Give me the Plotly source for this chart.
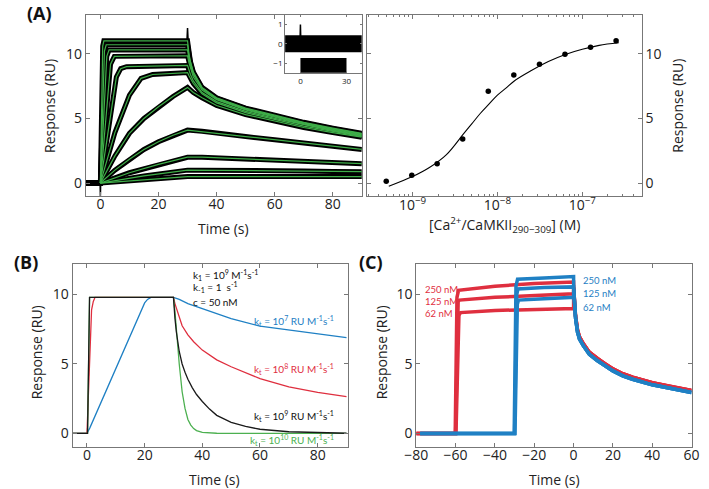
import plotly.graph_objects as go

W, H = 709, 489
FONT = "Open Sans"
FONT2 = "Lato"
GRAY = "#777777"
GREEN_A = "#3fae49"
RED = "#df2f3f"
BLUE = "#1f80c4"
GREEN_B = "#4cb050"

# ---------------- Panel A (left): sensorgrams + fits ----------------
fit_t = [
    [0, 0.8, 1.2, 30, 30.5, 31, 32, 35, 40, 50, 60, 70, 80, 90],
    [0, 1.4, 2.0, 30, 30.5, 31, 32, 35, 40, 50, 60, 70, 80, 90],
    [0, 2.2, 3.0, 30, 30.5, 31, 32, 35, 40, 50, 60, 70, 80, 90],
    [0, 3.5, 4.8, 30, 30.5, 31, 32, 35, 40, 50, 60, 70, 80, 90],
    [0, 5.5, 7.0, 9.0, 30, 30.5, 31, 32, 35, 40, 50, 60, 70, 80, 90],
    [0, 5, 10, 14, 18, 30, 30.5, 31, 32, 35, 40, 50, 60, 70, 80, 90],
    [0, 5, 10, 15, 20, 25, 30, 30.5, 31, 32, 35, 40, 50, 60, 70, 80, 90],
    [0, 5, 10, 15, 20, 25, 30, 35, 40, 50, 60, 70, 80, 90],
    [0, 10, 20, 30, 35, 40, 50, 60, 70, 80, 90],
    [0, 15, 30, 35, 40, 50, 60, 70, 80, 90],
    [0, 30, 35, 40, 50, 60, 70, 80, 90],
]
fit_y = [
    [0, 10.6, 11.0, 11.0, 10.0, 9.4, 8.6, 7.4, 6.6, 5.8, 5.25, 4.7, 4.25, 3.85],
    [0, 10.2, 10.7, 10.7, 9.8, 9.3, 8.5, 7.35, 6.55, 5.75, 5.2, 4.65, 4.2, 3.8],
    [0, 9.8, 10.3, 10.3, 9.6, 9.1, 8.4, 7.3, 6.5, 5.7, 5.15, 4.6, 4.15, 3.75],
    [0, 9.2, 9.8, 9.85, 9.3, 8.9, 8.2, 7.2, 6.45, 5.65, 5.1, 4.55, 4.1, 3.7],
    [0, 8.2, 8.85, 9.0, 9.1, 8.7, 8.4, 7.9, 7.0, 6.3, 5.55, 5.0, 4.5, 4.05, 3.65],
    [0, 3.9, 6.8, 8.1, 8.4, 8.55, 8.3, 8.1, 7.7, 6.9, 6.2, 5.45, 4.9, 4.4, 4.0, 3.6],
    [0, 2.1, 3.85, 5.0, 5.9, 6.7, 7.4, 7.3, 7.2, 7.0, 6.6, 6.0, 5.3, 4.8, 4.3, 3.9, 3.55],
    [0, 1.0, 1.85, 2.6, 3.2, 3.7, 4.1, 4.0, 3.85, 3.6, 3.35, 3.1, 2.85, 2.6],
    [0, 0.8, 1.45, 2.0, 2.0, 1.95, 1.9, 1.8, 1.7, 1.6, 1.5],
    [0, 0.55, 1.0, 1.0, 1.0, 0.98, 0.95, 0.93, 0.9, 0.88],
    [0, 0.5, 0.5, 0.5, 0.5, 0.5, 0.5, 0.5, 0.5],
]
baseline_t = [-5, 0]
baseline_y = [0, 0]
spike0_t = [-0.1, 0.0, 0.1]
spike0_y = [0, -1.0, 0]
spike30_t = [29.8, 30.0, 30.2]
spike30_y = [11.0, 12.0, 11.0]

# inset residuals
res_t_all = [-10, 40]
res_y_all = [0, 0]
res_t_low = [0, 30]
res_y_low = [-1.12, -1.12]
res_spike_t = [-0.3, 0, 0.3]
res_spike_y = [0, 1.0, 0]

# ---------------- Panel A (right): isotherm ----------------
conc = [4.9e-10, 9.8e-10, 1.95e-9, 3.9e-9, 7.8e-9, 1.56e-8, 3.13e-8, 6.25e-8, 1.25e-7, 2.5e-7]
req = [0.15, 0.6, 1.5, 3.4, 7.1, 8.35, 9.2, 9.97, 10.5, 11.0]
fitc = [5.25e-10, 1.0e-9, 1.58e-9, 2.51e-9, 3.98e-9, 5.01e-9, 6.31e-9, 7.94e-9,
        1.0e-8, 1.26e-8, 1.58e-8, 2.51e-8, 3.98e-8, 6.31e-8, 1.0e-7, 1.58e-7, 2.69e-7]
fitr = [-0.25, 0.5, 1.2, 2.2, 3.8, 4.6, 5.4, 6.1, 6.8, 7.35, 7.9, 8.7, 9.4, 9.95, 10.35, 10.65, 10.85]

# ---------------- Panel B: simulated curves ----------------
b_blue_t = [-5, 0, 1, 5, 10, 15, 20, 21, 21.6, 22.2, 30, 31, 32, 35, 40, 50, 60, 70, 80, 90]
b_blue_y = [0, 0, 0.4, 2.3, 4.75, 7.1, 9.4, 9.65, 9.76, 9.8, 9.8, 9.72, 9.65, 9.35, 9.0, 8.27, 7.72, 7.43, 7.19, 6.9]
b_red_t = [-5, 0, 1.6, 2.2, 2.8, 30, 30.5, 31, 32, 33, 35, 37, 40, 45, 50, 60, 70, 80, 90]
b_red_y = [0, 0, 8.9, 9.5, 9.8, 9.8, 9.35, 9.0, 8.3, 7.75, 7.1, 6.6, 6.0, 5.3, 4.8, 3.95, 3.35, 2.95, 2.65]
b_black_t = [-5, 0.2, 0.9, 30, 30.5, 31, 32, 33, 34, 35, 36.5, 38, 40, 42.5, 45, 50, 55, 60, 70, 80, 90]
b_black_y = [0, 0, 9.8, 9.8, 8.3, 7.3, 5.9, 5.0, 4.4, 3.9, 3.3, 2.8, 2.3, 1.75, 1.3, 0.8, 0.5, 0.3, 0.12, 0.04, 0.01]
b_green_t = [-5, 0.2, 0.9, 30, 30.5, 31, 32, 33, 34, 35, 36, 37, 38, 40, 45, 90]
b_green_y = [0, 0, 9.8, 9.8, 8.8, 7.3, 5.0, 3.0, 1.8, 1.0, 0.6, 0.35, 0.2, 0.07, 0.01, 0]

# ---------------- Panel C: measured traces ----------------
c_red_t = [
    [-80, -60.2, -59.3, -58.5, -40, -20, 0],
    [-80, -60.0, -58.7, -58.0, -40, -20, 0],
    [-80, -59.8, -58.3, -57.5, -40, -20, 0],
]
c_red_y = [
    [0, 0, 9.8, 10.3, 10.6, 10.8, 10.9],
    [0, 0, 9.5, 9.6, 9.8, 9.95, 10.05],
    [0, 0, 8.5, 8.7, 8.85, 8.95, 9.0],
]
c_blue_t = [
    [-78, -30.2, -29.3, -28.5, -15, 0],
    [-78, -30.0, -28.9, -28.3, -15, 0],
    [-78, -29.8, -28.6, -28.0, -15, 0],
]
c_blue_y = [
    [0, 0, 10.6, 11.1, 11.2, 11.3],
    [0, 0, 10.0, 10.4, 10.5, 10.55],
    [0, 0, 9.3, 9.6, 9.7, 9.8],
]
c_diss_t = [0.05, 0.5, 1, 2, 3, 5, 8, 12, 16, 20, 25, 30, 40, 50, 60]
c_diss_blue = [10.4, 9.0, 8.3, 7.3, 6.8, 6.3, 5.7, 5.25, 4.85, 4.5, 4.15, 3.9, 3.5, 3.2, 2.95]
c_diss_red = [10.5, 9.15, 8.45, 7.45, 6.95, 6.45, 5.85, 5.4, 5.0, 4.65, 4.3, 4.05, 3.65, 3.35, 3.1]

fig = go.Figure()


def line(x, y, xa, ya, color, width, shape="linear"):
    fig.add_trace(go.Scatter(x=x, y=y, mode="lines", line=dict(color=color, width=width, shape=shape),
                             xaxis=xa, yaxis=ya, hoverinfo="skip", showlegend=False))


# ---- Panel A left
for t, y in zip(fit_t, fit_y):
    line(baseline_t + t, baseline_y + y, "x", "y", "black", 5)
line(spike0_t, spike0_y, "x", "y", "black", 1.5)
line(spike30_t, spike30_y, "x", "y", "black", 1.5)
for t, y in zip(fit_t, fit_y):
    line(t, y, "x", "y", GREEN_A, 1.2)

# ---- Inset
line(res_t_all, res_y_all, "x2", "y2", "black", 17)
line(res_t_low, res_y_low, "x2", "y2", "black", 15)
line(res_spike_t, res_spike_y, "x2", "y2", "black", 1.5)

# ---- Panel A right
line(fitc, fitr, "x3", "y3", "black", 1.1, "spline")
fig.add_trace(go.Scatter(x=conc, y=req, mode="markers", marker=dict(color="black", size=5.5),
                         xaxis="x3", yaxis="y3", showlegend=False))

# ---- Panel B
for t, y, c in [(b_blue_t, b_blue_y, BLUE), (b_red_t, b_red_y, RED),
                (b_green_t, b_green_y, GREEN_B), (b_black_t, b_black_y, "#1a1a1a")]:
    line(t, y, "x4", "y4", c, 1.3)

# ---- Panel C
for t, y in zip(c_red_t, c_red_y):
    line(t + c_diss_t, y + c_diss_red, "x5", "y5", RED, 3.5)
for t, y in zip(c_blue_t, c_blue_y):
    line(t + c_diss_t, y + c_diss_blue, "x5", "y5", BLUE, 3.5)


def px(x0, x1):
    return [x0 / W, x1 / W]


def py(top, bottom):
    return [1 - bottom / H, 1 - top / H]


axbase = dict(showline=True, linecolor=GRAY, linewidth=1, mirror="allticks", ticks="inside",
              ticklen=4, tickcolor=GRAY, showgrid=False, zeroline=False,
              tickfont=dict(family=FONT, size=14, color="#222"))
xstand = dict(ticklabelstandoff=-5)

fig.update_layout(
    width=W, height=H, margin=dict(l=0, r=0, t=0, b=0),
    paper_bgcolor="white", plot_bgcolor="white", showlegend=False,
    xaxis=dict(axbase, **xstand, domain=px(76, 360), range=[-5, 90], tickvals=[0, 20, 40, 60, 80], anchor="y"),
    yaxis=dict(axbase, domain=py(15, 196), range=[-1, 13], tickvals=[0, 5, 10], anchor="x"),
    xaxis2=dict(axbase, domain=px(281, 360), range=[-10, 40], tickvals=[0, 30], anchor="y2", ticklen=2,
                ticklabelstandoff=1, tickfont=dict(family=FONT, size=8, color="#222")),
    yaxis2=dict(axbase, domain=py(15, 72.7), range=[-1.5, 1.5], tickvals=[-1, 0, 1], anchor="x2", ticklen=2,
                tickfont=dict(family=FONT, size=8, color="#222")),
    xaxis3=dict(axbase, domain=px(365, 648), type="log", range=[-9.54, -6.30], ticklabelstandoff=-4,
                tickvals=[1e-9, 1e-8, 1e-7], ticktext=["10<sup>−9</sup>", "10<sup>−8</sup>", "10<sup>−7</sup>"],
                minor=dict(ticks="inside", ticklen=2, tickcolor=GRAY,
                           tickvals=[m * 10.0 ** e for e in range(-10, -6) for m in range(2, 10)]),
                anchor="y3"),
    yaxis3=dict(axbase, domain=py(15, 196), range=[-1, 13], tickvals=[0, 5, 10], anchor="x3", side="right"),
    xaxis4=dict(axbase, **xstand, domain=px(62.3, 345.7), range=[-5, 90.5], tickvals=[0, 20, 40, 60, 80],
                anchor="y4"),
    yaxis4=dict(axbase, domain=py(264, 447.3), range=[-1, 12.2], tickvals=[0, 5, 10], anchor="x4"),
    xaxis5=dict(axbase, **xstand, domain=px(416, 699.3), range=[-80, 60],
                tickvals=[-80, -60, -40, -20, 0, 20, 40, 60], anchor="y5"),
    yaxis5=dict(axbase, domain=py(264, 447.3), range=[-1, 12.2], tickvals=[0, 5, 10], anchor="x5"),
)

ann = []
# axis titles (pixel positions)
tfont = dict(family=FONT, size=14, color="#222")
for txt, x, y, ang in [("Response (RU)", 39, 106, -90), ("Time (s)", 218, 228, 0),
                       ("[Ca<sup>2+</sup>/CaMKII<sub>290−309</sub>] (M)", 507, 225, 0),
                       ("Response (RU)", 685, 106, -90),
                       ("Response (RU)", 25, 352, -90), ("Time (s)", 208, 479, 0),
                       ("Response (RU)", 380, 352, -90), ("Time (s)", 558, 479, 0)]:
    ann.append(dict(text=txt, x=x / W, y=1 - y / H, xref="paper", yref="paper", xanchor="center",
                    yanchor="middle", showarrow=False, textangle=ang, font=tfont))
# panel labels
for txt, x, y in [("(A)", 13, 12.5), ("(B)", 0, 261.5), ("(C)", 355, 261.5)]:
    ann.append(dict(text="<b>" + txt + "</b>", x=x / W, y=1 - y / H, xref="paper", yref="paper",
                    xanchor="left", yanchor="middle", showarrow=False,
                    font=dict(family=FONT, size=18, color="#111")))
# panel B texts
small = dict(family=FONT2, size=10)
for txt, y in [("k<sub>1</sub> = 10<sup>9</sup> M<sup>-1</sup>s<sup>-1</sup>", 275),
               ("k<sub>-1</sub> = 1  s<sup>-1</sup>", 287),
               ("c = 50 nM", 302)]:
    ann.append(dict(text=txt, x=184 / W, y=1 - y / H, xref="paper", yref="paper", xanchor="left",
                    yanchor="middle", showarrow=False, font=dict(small, color="#111")))
for txt, yv, c in [("k<sub>t</sub> = 10<sup>7</sup> RU M<sup>-1</sup>s<sup>-1</sup>", 8.1, BLUE),
                   ("k<sub>t</sub> = 10<sup>8</sup> RU M<sup>-1</sup>s<sup>-1</sup>", 4.66, RED),
                   ("k<sub>t</sub> = 10<sup>9</sup> RU M<sup>-1</sup>s<sup>-1</sup>", 1.23, "#111"),
                   ("k<sub>t</sub> = 10<sup>10</sup> RU M<sup>-1</sup>s<sup>-1</sup>", -0.5, GREEN_B)]:
    ann.append(dict(text=txt, x=86.5, y=yv, xref="x4", yref="y4", xanchor="right", yanchor="middle",
                    showarrow=False, font=dict(small, color=c)))
# panel C labels
csmall = dict(family=FONT2, size=9.5)
for txt, yv in [("250 nM", 10.38), ("125 nM", 9.47), ("62 nM", 8.63)]:
    ann.append(dict(text=txt, x=-76.5, y=yv, xref="x5", yref="y5", xanchor="left", yanchor="middle",
                    showarrow=False, font=dict(csmall, color=RED)))
for txt, yv in [("250 nM", 11.03), ("125 nM", 10.07), ("62 nM", 9.1)]:
    ann.append(dict(text=txt, x=3.7, y=yv, xref="x5", yref="y5", xanchor="left", yanchor="middle",
                    showarrow=False, font=dict(csmall, color=BLUE)))
fig.update_layout(annotations=ann)

fig.write_html("out.html", config={"displayModeBar": False},
               post_script="document.body.style.margin='0';document.body.style.overflow='hidden';")
